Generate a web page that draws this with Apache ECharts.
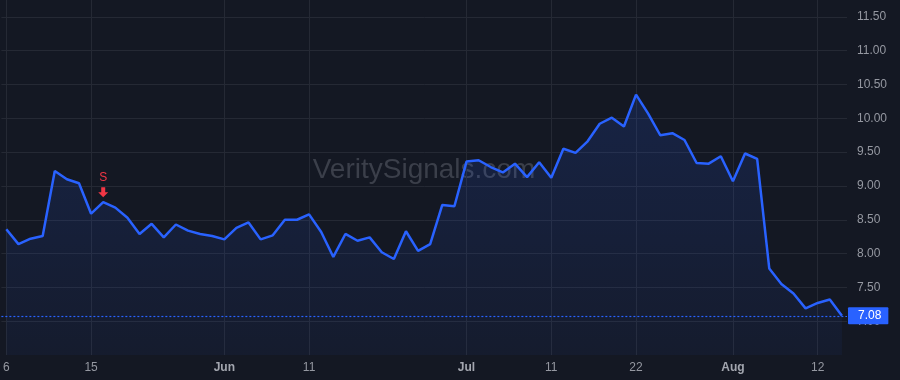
<!DOCTYPE html>
<html>
<head>
<meta charset="utf-8">
<script src="https://cdn.jsdelivr.net/npm/echarts@6/dist/echarts.min.js"></script>
<style>
html,body{margin:0;padding:0;background:#141823;}
#chart{width:900px;height:380px;}
</style>
</head>
<body>
<div id="chart"></div>
<script>
// Closing prices, trading days May 6 – Aug 14, 2025
const prices = [
  8.36, 8.14, 8.22, 8.26, 9.22, 9.10, 9.04, 8.59, 8.76, 8.68,
  8.53, 8.29, 8.44, 8.24, 8.43, 8.34, 8.29, 8.26, 8.21, 8.38,
  8.46, 8.21, 8.27, 8.50, 8.50, 8.58, 8.32, 7.95, 8.29, 8.19,
  8.24, 8.02, 7.92, 8.33, 8.04, 8.14, 8.72, 8.70, 9.36, 9.38,
  9.28, 9.20, 9.33, 9.13, 9.35, 9.12, 9.55, 9.49, 9.66, 9.92,
  10.01, 9.88, 10.35, 10.07, 9.75, 9.78, 9.68, 9.34, 9.33, 9.44,
  9.07, 9.48, 9.40, 7.78, 7.55, 7.41, 7.19, 7.27, 7.32, 7.08
];
// x-axis tick positions (index of trading day) and their labels
const tickIndex = [0, 7, 18, 25, 38, 45, 52, 60, 67];
const tickLabels = ['6', '15', 'Jun', '11', 'Jul', '11', '22', 'Aug', '12'];
const monthLabels = ['Jun', 'Jul', 'Aug'];
// signal marker
const signalIndex = 8;
const signalText = 'S';
const lastPrice = prices[prices.length - 1];
const watermark = 'VeritySignals.com';

const seriesData = prices.map((v, i) => [i, v]);
const gridColor = '#252934';
const textColor = '#9598a1';
const font = "'Liberation Sans', Arial, sans-serif";

const chart = echarts.init(document.getElementById('chart'), null, {renderer: 'canvas'});
const splitColors = ['rgba(0,0,0,0)'];
for (let k = 0; k < 10; k++) splitColors.push(gridColor);

chart.setOption({
  backgroundColor: '#141823',
  animation: false,
  textStyle: {fontFamily: font},
  grid: {left: 0, right: 53, top: 0, bottom: 25, containLabel: false},
  graphic: [{
    type: 'text',
    x: 424,
    y: 170,
    z: 0,
    style: {
      text: watermark,
      font: "28px 'Liberation Sans', Arial, sans-serif",
      fill: '#3b3f4a',
      textAlign: 'center',
      textVerticalAlign: 'middle'
    }
  }],
  xAxis: {
    type: 'value',
    min: -0.41,
    max: 69.42,
    axisLine: {show: false},
    axisTick: {show: false, customValues: tickIndex},
    splitLine: {show: true, lineStyle: {color: gridColor, width: 1}},
    axisLabel: {
      customValues: tickIndex,
      margin: 7,
      fontSize: 12,
      color: textColor,
      fontFamily: font,
      formatter: function (v) {
        const k = tickIndex.indexOf(Math.round(v));
        const t = k >= 0 ? tickLabels[k] : '';
        return monthLabels.indexOf(t) >= 0 ? '{b|' + t + '}' : t;
      },
      rich: {b: {fontWeight: 'bold', fontSize: 12, color: '#a3a6af', fontFamily: font}}
    }
  },
  yAxis: {
    type: 'value',
    position: 'right',
    min: 6.5,
    max: 11.75,
    interval: 0.5,
    axisLine: {show: false},
    axisTick: {show: false},
    splitLine: {show: true, lineStyle: {color: splitColors, width: 1}},
    axisLabel: {
      margin: 10,
      fontSize: 12,
      color: textColor,
      fontFamily: font,
      formatter: v => (v < 6.9 || v > 11.6) ? '' : v.toFixed(2)
    }
  },
  series: [{
    type: 'line',
    data: seriesData,
    symbol: 'none',
    z: 3,
    lineStyle: {color: '#2962ff', width: 2.5},
    areaStyle: {
      color: new echarts.graphic.LinearGradient(0, 0, 0, 1, [
        {offset: 0, color: 'rgba(41,98,255,0.22)'},
        {offset: 1, color: 'rgba(41,98,255,0.07)'}
      ])
    },
    markLine: {
      silent: true,
      symbol: 'none',
      animation: false,
      lineStyle: {color: '#2962ff', type: [2, 2], width: 1.2},
      label: {
        show: true,
        position: 'end',
        distance: 1,
        formatter: lastPrice.toFixed(2),
        backgroundColor: '#2962ff',
        color: '#ffffff',
        fontSize: 12,
        fontFamily: font,
        padding: [3, 7, 2, 10],
        borderRadius: 1
      },
      data: [{yAxis: lastPrice}]
    },
    markPoint: {
      silent: true,
      animation: false,
      data: [{
        coord: [signalIndex, prices[signalIndex]],
        symbol: 'path://M3,0 L7,0 L7,5 L10,5 L5,10 L0,5 L3,5 Z',
        symbolSize: [10, 10],
        symbolOffset: [0, -10],
        itemStyle: {color: '#f23645'},
        label: {
          show: true,
          position: 'top',
          distance: 3,
          formatter: signalText,
          color: '#f23645',
          fontSize: 12,
          fontFamily: font
        }
      }]
    }
  }]
});
</script>
</body>
</html>
